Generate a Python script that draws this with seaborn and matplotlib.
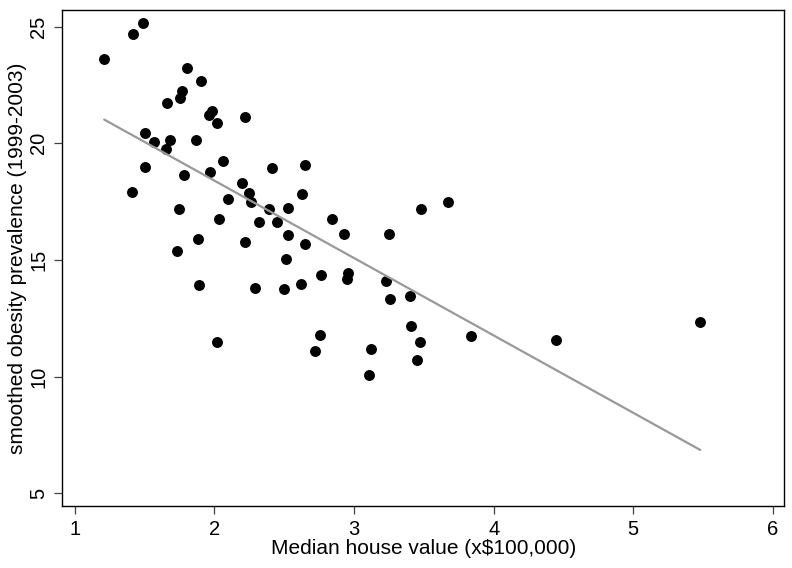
import pandas as pd
import matplotlib
matplotlib.use('Agg')
import matplotlib.pyplot as plt
import seaborn as sns

# median house value (x$100,000) and smoothed obesity prevalence per area
house_value = [1.21, 1.415, 1.49, 1.50, 1.566, 1.408, 1.50, 1.66, 1.75, 1.77,
               1.80, 1.90, 1.65, 1.68, 1.87, 1.96, 1.98, 2.02, 2.22, 1.78,
               1.97, 2.06, 1.745, 1.88, 1.73, 1.89, 2.02, 2.03, 2.10, 2.20,
               2.25, 2.26, 2.22, 2.29, 2.32, 2.39, 2.53, 2.63, 2.45, 2.53,
               2.65, 2.51, 2.84, 2.93, 3.25, 3.48, 3.67, 2.50, 2.62, 2.76,
               2.96, 2.95, 3.23, 3.26, 3.40, 3.41, 3.47, 3.45, 3.84, 2.755,
               2.72, 3.12, 3.11, 4.45, 5.48, 2.41, 2.65]
obesity = [23.60, 24.68, 25.17, 20.44, 20.06, 17.91, 18.99, 21.73, 21.96, 22.26,
           23.23, 22.67, 19.75, 20.16, 20.14, 21.21, 21.38, 20.87, 21.13, 18.64,
           18.77, 19.24, 17.18, 15.89, 15.38, 13.92, 11.48, 16.75, 17.61, 18.30,
           17.86, 17.48, 15.77, 13.79, 16.63, 17.18, 17.22, 17.82, 16.63, 16.07,
           15.68, 15.04, 16.75, 16.11, 16.11, 17.18, 17.48, 13.75, 13.96, 14.35,
           14.43, 14.18, 14.09, 13.32, 13.45, 12.16, 11.48, 10.71, 11.76, 11.78,
           11.09, 11.18, 10.07, 11.57, 12.34, 18.94, 19.07]

x_ticks = [1, 2, 3, 4, 5, 6]
y_ticks = [5, 10, 15, 20, 25]

df = pd.DataFrame({'house_value': house_value, 'obesity': obesity})

sns.set_style('ticks')
plt.rcParams['font.family'] = ['Liberation Sans', 'DejaVu Sans']
plt.rcParams['text.color'] = 'black'
plt.rcParams['axes.labelcolor'] = 'black'
plt.rcParams['xtick.labelcolor'] = 'black'
plt.rcParams['ytick.labelcolor'] = 'black'

fig = plt.figure(figsize=(7.92, 5.68), dpi=100)
ax = fig.add_axes([0.0787, 0.1092, 0.9112, 0.8738])

sns.regplot(x='house_value', y='obesity', data=df, ci=None, ax=ax,
            scatter_kws={'s': 62, 'color': 'black', 'alpha': 1, 'linewidths': 0},
            line_kws={'color': '#999999', 'linewidth': 1.6})

ax.set_xlim(0.91, 6.08)
ax.set_ylim(4.46, 25.73)
ax.set_xticks(x_ticks)
ax.set_yticks(y_ticks)
ax.set_xticklabels([str(t) for t in x_ticks], fontsize=14.5)
ax.set_yticklabels([str(t) for t in y_ticks], fontsize=14.5, rotation=90, va='center')

ax.tick_params(axis='both', direction='out', length=6, width=0.9, color='#404040')
ax.tick_params(axis='x', pad=4)
ax.tick_params(axis='y', pad=4)

for side in ['top', 'right', 'bottom', 'left']:
    ax.spines[side].set_visible(True)
    ax.spines[side].set_color('black')
    ax.spines[side].set_linewidth(1.0)

ax.set_xlabel('Median house value (x$100,000)', fontsize=15, labelpad=0)
ax.set_ylabel('smoothed obesity prevalence (1999-2003)', fontsize=15, labelpad=2)

plt.savefig('out.png', dpi=100)
